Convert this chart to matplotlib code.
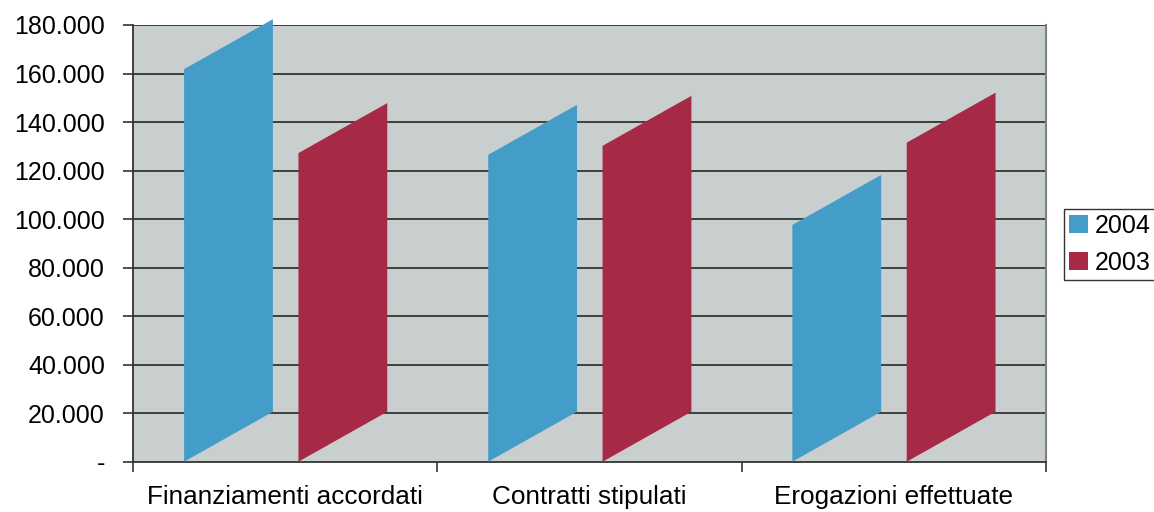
import matplotlib
matplotlib.use("Agg")
import matplotlib.pyplot as plt
from matplotlib.patches import Polygon, Patch
from matplotlib.ticker import FixedLocator, FuncFormatter

plt.rcParams['font.family'] = ['Liberation Sans', 'DejaVu Sans']

categories = ["Finanziamenti accordati", "Contratti stipulati", "Erogazioni effettuate"]
series_names = ["2004", "2003"]
values_2004 = [161800, 126500, 97600]
values_2003 = [127200, 130200, 131500]
y_ticks = [0, 20000, 40000, 60000, 80000, 100000, 120000, 140000, 160000, 180000]

colors = {"2004": "#449dc9", "2003": "#a62a45"}
bar_offset = {"2004": 0.167, "2003": 0.543}
depth_dx = 0.292      # horizontal skew of each bar, in category units
depth_dy = 20600      # vertical skew of each bar, in value units

fig = plt.figure(figsize=(11.54, 5.12), dpi=100)
ax = fig.add_axes([133.3 / 1154, 1 - 461.7 / 512, (1045.7 - 133.3) / 1154, (461.7 - 25) / 512])
ax.set_facecolor("#c9cecf")
ax.set_xlim(0, len(categories))
ax.set_ylim(0, 180000)

for y in y_ticks[1:]:
    ax.axhline(y, color="#333333", lw=1.3, zorder=1)

for name, vals in zip(series_names, [values_2004, values_2003]):
    for i, v in enumerate(vals):
        x0 = i + bar_offset[name]
        pts = [(x0, 0), (x0, v), (x0 + depth_dx, v + depth_dy), (x0 + depth_dx, depth_dy)]
        ax.add_patch(Polygon(pts, closed=True, facecolor=colors[name],
                             edgecolor="none", zorder=3, clip_on=False))

ax.yaxis.set_major_locator(FixedLocator(y_ticks))
ax.yaxis.set_major_formatter(FuncFormatter(
    lambda v, p: "-" if v == 0 else f"{int(v):,}".replace(",", ".")))
ax.xaxis.set_major_locator(FixedLocator(range(len(categories) + 1)))
ax.xaxis.set_minor_locator(FixedLocator([i + 0.5 for i in range(len(categories))]))
ax.set_xticklabels([""] * (len(categories) + 1))
ax.set_xticklabels(categories, minor=True)
ax.tick_params(axis="x", which="major", length=7, width=1.2, color="#333333", direction="out")
ax.tick_params(axis="x", which="minor", length=0, pad=17, labelsize=18.8)
ax.tick_params(axis="y", length=7, width=1.2, color="#333333", direction="out", pad=13.5, labelsize=18)

for side in ["left", "bottom"]:
    ax.spines[side].set_color("#333333")
    ax.spines[side].set_linewidth(1.3)
ax.spines["right"].set_color("#808080")
ax.spines["right"].set_linewidth(1.5)
ax.spines["top"].set_visible(False)

handles = [Patch(facecolor=colors[n], edgecolor="none", label=n) for n in series_names]
leg = fig.legend(handles=handles, loc="upper left", bbox_to_anchor=(1064 / 1154, 1 - 209 / 512),
                 frameon=True, fancybox=False, fontsize=18, handlelength=0.75, handleheight=0.75,
                 handletextpad=0.3, borderpad=0.2, labelspacing=0.5, borderaxespad=0)
leg.get_frame().set_edgecolor("#000000")
leg.get_frame().set_linewidth(1.0)

fig.savefig("out.png", dpi=100)
